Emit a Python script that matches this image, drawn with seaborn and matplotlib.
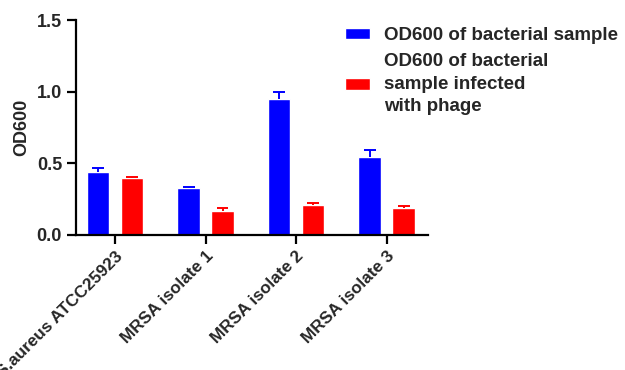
import matplotlib
matplotlib.use("Agg")
import matplotlib.pyplot as plt
import seaborn as sns
import pandas as pd
import numpy as np

categories = ["S.aureus ATCC25923", "MRSA isolate 1", "MRSA isolate 2", "MRSA isolate 3"]
series_names = ["OD600 of bacterial sample", "OD600 of bacterial\nsample infected\nwith phage"]
bacterial = [0.44, 0.324, 0.953, 0.544]
bacterial_err = [0.03, 0.006, 0.047, 0.052]
phage = [0.394, 0.164, 0.206, 0.183]
phage_err = [0.006, 0.019, 0.012, 0.014]
colors = ["#0000FF", "#FF0000"]
y_ticks = [0.0, 0.5, 1.0, 1.5]

df = pd.DataFrame({
    "cat": categories * 2,
    "series": [series_names[0]] * 4 + [series_names[1]] * 4,
    "value": bacterial + phage,
})

sns.set_style("ticks")
plt.rcParams["font.family"] = ["Liberation Sans", "DejaVu Sans"]
plt.rcParams["font.weight"] = "bold"

fig = plt.figure(figsize=(6.25, 3.7), dpi=100)
ax = fig.add_axes([0.1216, 0.366, 0.5632, 0.5786])

sns.barplot(data=df, x="cat", y="value", hue="series", palette=colors,
            width=0.75, gap=0.333, errorbar=None, ax=ax, saturation=1,
            legend=True)

errs = [bacterial_err, phage_err]
vals = [bacterial, phage]
cap_half = 0.066
for cont, v, e, c in zip(ax.containers, vals, errs, colors):
    xs = np.array([p.get_x() + p.get_width() / 2 for p in cont.patches])
    tops = np.array(v) + np.array(e)
    ax.vlines(xs, v, tops, color=c, lw=1.4)
    ax.hlines(tops, xs - cap_half, xs + cap_half, color=c, lw=1.4)

ax.set_ylim(0, 1.5)
ax.set_yticks(y_ticks)
ax.set_yticklabels([f"{t:.1f}" for t in y_ticks])
ax.set_xlim(-0.43, 3.456)
ax.set_xlabel("")
ax.set_ylabel("OD600", fontsize=13, fontweight="bold", labelpad=5)
for s in ["top", "right"]:
    ax.spines[s].set_visible(False)
for s in ["left", "bottom"]:
    ax.spines[s].set_linewidth(1.6)
    ax.spines[s].set_color("black")
ax.tick_params(axis="both", width=1.6, length=6.5, labelsize=13, color="black")
ax.tick_params(axis="x", labelsize=12.3)
plt.setp(ax.get_xticklabels(), rotation=45, ha="right", rotation_mode="anchor",
         fontweight="bold")
plt.setp(ax.get_yticklabels(), fontweight="bold")

h, l = ax.get_legend_handles_labels()
ax.get_legend().remove()
leg = fig.legend(h, l, loc="upper left", bbox_to_anchor=(0.525, 0.972), frameon=False,
                 prop={"size": 13.5, "weight": "bold"}, handlelength=1.35, handleheight=0.58,
                 handletextpad=0.75, labelspacing=0.45)
for t in leg.get_texts():
    t.set_linespacing(1.45)

fig.savefig("out.png", dpi=100)
